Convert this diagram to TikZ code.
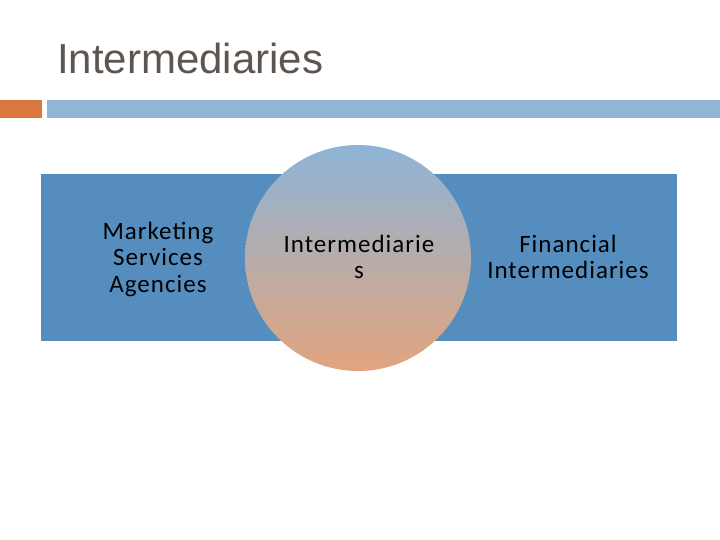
\documentclass[tikz,border=0pt]{standalone}
\usepackage{fontspec}
\setmainfont{Liberation Sans}
\newfontfamily\labelfont[LetterSpace=4]{Carlito}
\usetikzlibrary{positioning}
\definecolor{titlegray}{HTML}{5E5550}
\definecolor{barorange}{HTML}{D9773F}
\definecolor{barblue}{HTML}{93B5D4}
\definecolor{boxblue}{HTML}{558DBE}
\definecolor{ringtop}{HTML}{8DB4D6}
\definecolor{ringbottom}{HTML}{E2A47E}
\tikzset{
  itemlabel/.style={align=center, font=\labelfont\fontsize{25}{26.5}\selectfont, text=black, inner sep=0pt}
}
\begin{document}
\begin{tikzpicture}[x=1pt,y=-1pt]
\useasboundingbox (0,0) rectangle (720,540);
\fill[white] (0,0) rectangle (720,540);
% title and rule
\node[anchor=west, text=titlegray, font=\fontsize{42}{46}\selectfont, inner sep=0pt] (title) at (57,58) {Intermediaries};
\fill[barorange] (0,100) rectangle (42,118);
\fill[barblue] (47,100) rectangle (720,118);
% band and circle
\fill[boxblue] (41,174) rectangle (677,341);
\shade[top color=ringtop, bottom color=ringbottom] (358,258) circle (113);
\node[itemlabel] (marketing) at (158,259) {Marketing\\Services\\Agencies};
\node[itemlabel] (central) at (359,257) {Intermediarie\\s};
\node[itemlabel] (financial) at (568,257) {Financial\\Intermediaries};
\end{tikzpicture}
\end{document}
